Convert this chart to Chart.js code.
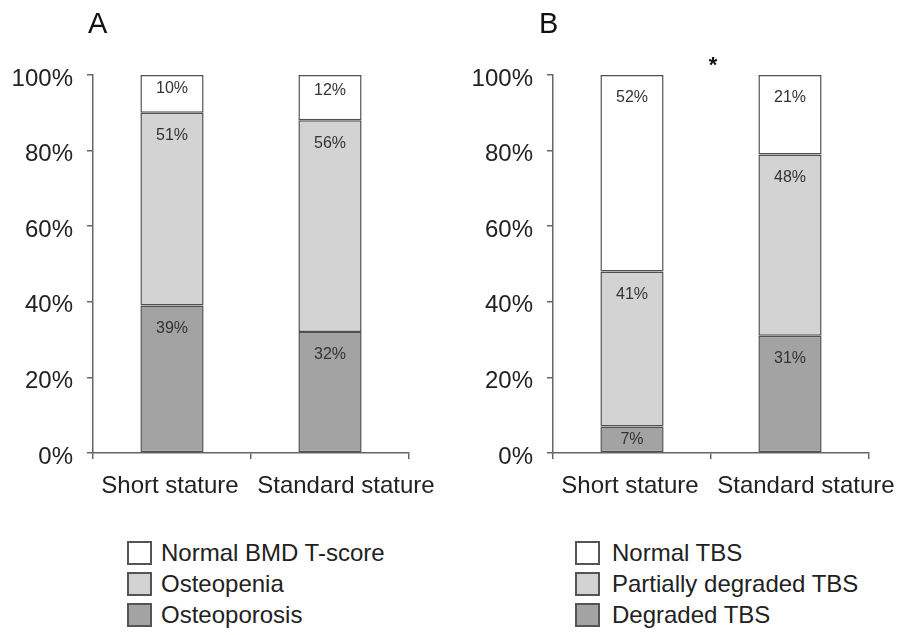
<!DOCTYPE html>
<html>
<head>
<meta charset="utf-8">
<script src="https://cdn.jsdelivr.net/npm/chart.js@4/dist/chart.umd.min.js"></script>
<style>
  html, body { margin: 0; padding: 0; background: #fff; }
  #wrap { position: relative; width: 906px; height: 635px; background: #fff; overflow: hidden;
          font-family: "Liberation Sans", Arial, sans-serif; color: #222; }
  canvas { position: absolute; top: 0; }
  .panel { position: absolute; font-size: 29px; line-height: 29px; color: #111; }
  .lg { position: absolute; height: 24px; font-size: 24px; line-height: 24px; white-space: nowrap; color: #222; }
  .lg span.box { position: absolute; left: 0; top: 0; width: 21px; height: 20px; border: 2px solid #555; box-sizing: content-box; }
  .lg span.txt { position: absolute; top: 0; }
</style>
</head>
<body>
<div id="wrap">
  <canvas id="cA" width="453" height="520" style="left:0px"></canvas>
  <canvas id="cB" width="446" height="520" style="left:460px"></canvas>
  <div class="panel" style="left:88px; top:9px;">A</div>
  <div class="panel" style="left:539px; top:9px;">B</div>
  <div id="legA"></div>
  <div id="legB"></div>
</div>
<script>
// ---- data ----
const categories = ['Short stature', 'Standard stature'];
const yTickValues = [0, 20, 40, 60, 80, 100];

const bmdLabels = ['Osteoporosis', 'Osteopenia', 'Normal BMD T-score'];
const bmdOsteoporosis = [39, 32];
const bmdOsteopenia = [51, 56];
const bmdNormal = [10, 12];

const tbsLabels = ['Degraded TBS', 'Partially degraded TBS', 'Normal TBS'];
const tbsDegraded = [7, 31];
const tbsPartial = [41, 48];
const tbsNormal = [52, 21];

const significance = ['', '*']; // panel A none, panel B '*'

// ---- styles ----
const fills = ['#a3a3a3', '#d3d3d3', '#ffffff'];
const edge = '#505050';
const FONT = '"Liberation Sans", Arial, sans-serif';

const valueLabels = {
  id: 'valueLabels',
  afterDatasetsDraw(chart) {
    const ctx = chart.ctx;
    ctx.save();
    ctx.font = '16px ' + FONT;
    ctx.fillStyle = '#333';
    ctx.textAlign = 'center';
    ctx.textBaseline = 'middle';
    chart.data.datasets.forEach((ds, di) => {
      const meta = chart.getDatasetMeta(di);
      meta.data.forEach((el, i) => {
        const v = ds.data[i];
        const top = Math.min(el.y, el.base), bot = Math.max(el.y, el.base);
        const h = bot - top;
        const off = h < 30 ? h / 2 : Math.min(23, 0.35 * h);
        ctx.fillText(v + '%', el.x, top + off);
      });
    });
    ctx.restore();
  }
};

// category labels under the x axis; a label that would crowd its neighbour is pushed right
const xLabels = {
  id: 'xLabels',
  afterDraw(chart) {
    const ctx = chart.ctx;
    const xs = chart.scales.x;
    ctx.save();
    ctx.font = '24px ' + FONT;
    ctx.fillStyle = '#222';
    ctx.textAlign = 'left';
    ctx.textBaseline = 'alphabetic';
    let prevRight = -Infinity;
    chart.data.labels.forEach((lab, i) => {
      const w = ctx.measureText(lab).width;
      const c = xs.getPixelForValue(i) - 2;
      let left = Math.max(c - w / 2, prevRight + 18.5);
      ctx.fillText(lab, left, chart.chartArea.bottom + 40);
      prevRight = left + w;
    });
    ctx.restore();
  }
};

const starPlugin = {
  id: 'starPlugin',
  afterDraw(chart, args, opts) {
    if (!opts.text) return;
    const ctx = chart.ctx;
    const a = chart.chartArea;
    ctx.save();
    ctx.font = 'bold 22px ' + FONT;
    ctx.fillStyle = '#111';
    ctx.textAlign = 'center';
    ctx.textBaseline = 'alphabetic';
    ctx.fillText(opts.text, (a.left + a.right) / 2 + 2, a.top - 3);
    ctx.restore();
  }
};

function makeChart(id, labels, series, star) {
  const canvas = document.getElementById(id);
  const W = canvas.width, H = canvas.height;
  const datasets = series.map((d, k) => ({
    label: labels[k],
    data: d,
    backgroundColor: fills[k],
    borderColor: edge,
    borderWidth: 1.5,
    borderSkipped: false,
    barPercentage: 0.4,
    categoryPercentage: 1.0
  }));
  return new Chart(canvas, {
    type: 'bar',
    data: { labels: categories, datasets },
    plugins: [valueLabels, xLabels, starPlugin],
    options: {
      responsive: false,
      animation: false,
      devicePixelRatio: 1,
      layout: { padding: { top: 75, right: W - 409, left: 0, bottom: 0 } },
      plugins: {
        legend: { display: false },
        tooltip: { enabled: false },
        starPlugin: { text: star }
      },
      scales: {
        x: {
          stacked: true,
          offset: true,
          afterFit: s => { s.height = H - 453; },
          grid: { display: true, offset: true, drawOnChartArea: false, drawTicks: true, tickLength: 6, color: '#666', lineWidth: 1.5 },
          border: { display: true, color: '#666', width: 1.5 },
          ticks: { display: false }
        },
        y: {
          stacked: true,
          min: 0, max: 100,
          afterFit: s => { s.width = 93; },
          afterBuildTicks: s => { s.ticks = yTickValues.map(v => ({ value: v })); },
          grid: { display: true, drawOnChartArea: false, drawTicks: true, tickLength: 6, color: '#666', lineWidth: 1.5 },
          border: { display: true, color: '#666', width: 1.5 },
          ticks: { color: '#222', font: { family: FONT, size: 24 }, padding: 14, labelOffset: 4,
                   callback: v => v + '%' }
        }
      }
    }
  });
}

makeChart('cA', bmdLabels, [bmdOsteoporosis, bmdOsteopenia, bmdNormal], significance[0]);
makeChart('cB', tbsLabels, [tbsDegraded, tbsPartial, tbsNormal], significance[1]);

function makeLegend(id, labels, left, textLeft) {
  const host = document.getElementById(id);
  const order = [2, 1, 0];
  order.forEach((k, r) => {
    const row = document.createElement('div');
    row.className = 'lg';
    row.style.left = left + 'px';
    row.style.top = (541 + r * 31) + 'px';
    const box = document.createElement('span');
    box.className = 'box';
    box.style.background = fills[k];
    const txt = document.createElement('span');
    txt.className = 'txt';
    txt.style.left = (textLeft - left) + 'px';
    txt.textContent = labels[k];
    row.appendChild(box);
    row.appendChild(txt);
    host.appendChild(row);
  });
}
makeLegend('legA', bmdLabels, 127, 161);
makeLegend('legB', tbsLabels, 575, 612);
</script>
</body>
</html>
